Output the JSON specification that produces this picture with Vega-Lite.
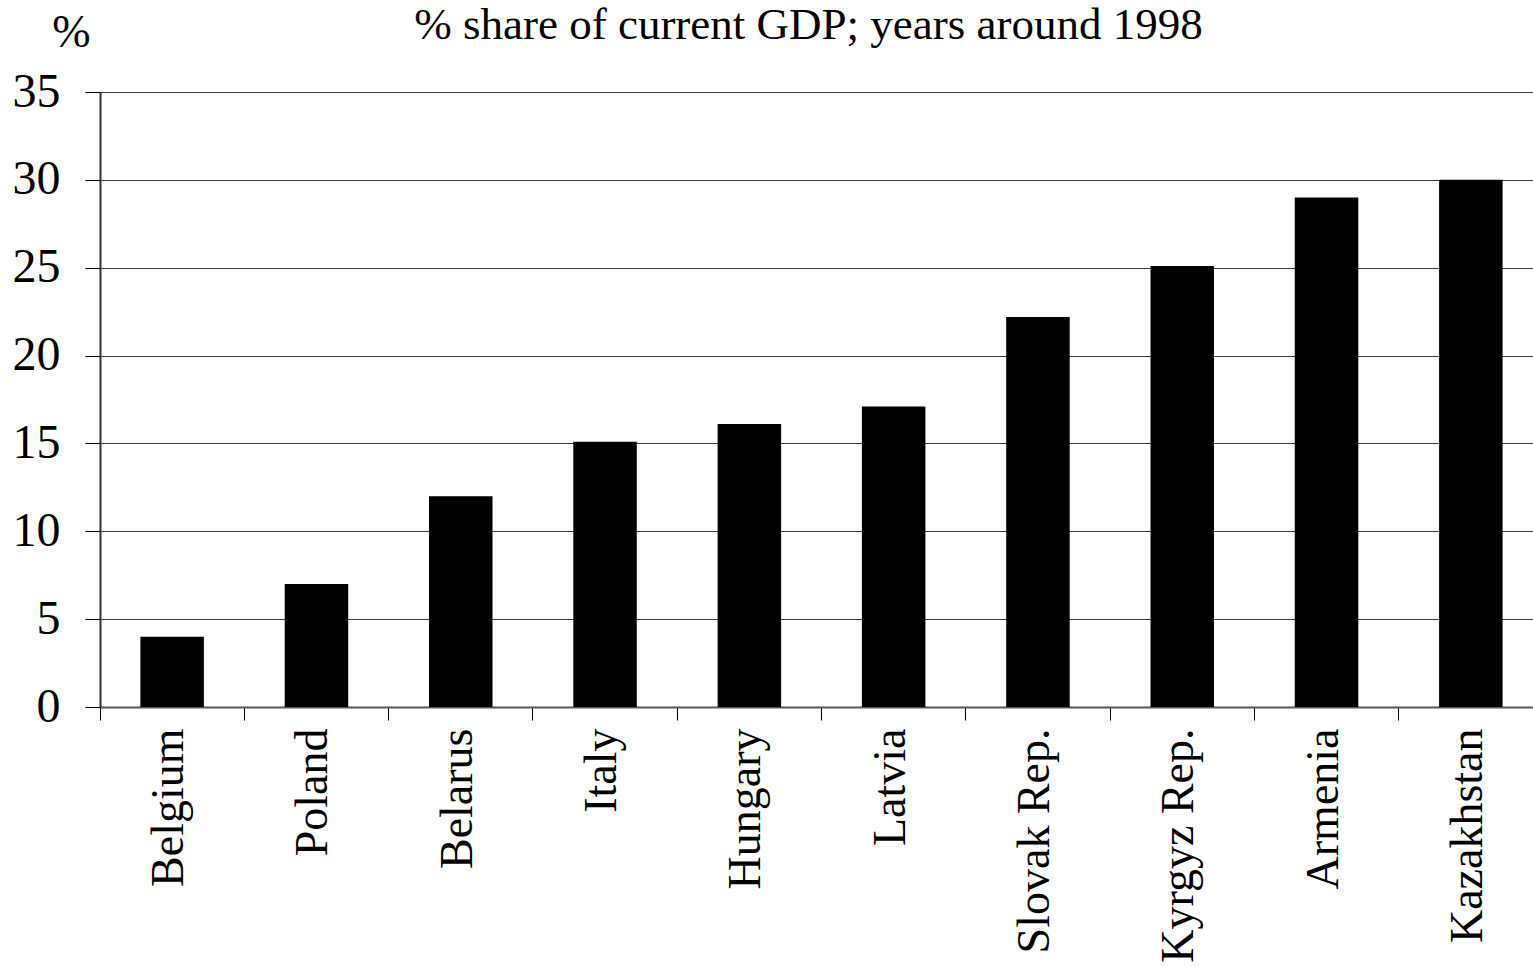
{
  "$schema": "https://vega.github.io/schema/vega-lite/v6.json",
  "autosize": "none",
  "padding": {"left": 100, "top": 92, "right": 0, "bottom": 260},
  "width": 1443,
  "height": 615,
  "background": "white",
  "config": {"view": {"stroke": null}, "font": "Liberation Serif"},
  "title": {
    "text": "% share of current GDP; years around 1998",
    "font": "Liberation Serif",
    "fontSize": 45,
    "fontWeight": "normal",
    "color": "black",
    "anchor": "middle",
    "frame": "group",
    "dx": -13,
    "offset": -39
  },
  "data": {
    "values": [
      {"country": "Belgium", "value": 4},
      {"country": "Poland", "value": 7},
      {"country": "Belarus", "value": 12},
      {"country": "Italy", "value": 15.1},
      {"country": "Hungary", "value": 16.1},
      {"country": "Latvia", "value": 17.1},
      {"country": "Slovak Rep.", "value": 22.2},
      {"country": "Kyrgyz Rep.", "value": 25.1},
      {"country": "Armenia", "value": 29},
      {"country": "Kazakhstan", "value": 30}
    ]
  },
  "mark": {"type": "bar", "color": "black"},
  "encoding": {
    "x": {
      "field": "country",
      "type": "nominal",
      "sort": null,
      "scale": {"paddingInner": 0.56, "paddingOuter": 0.28, "align": 0.5},
      "axis": {
        "title": null,
        "labelAngle": -90,
        "labelAlign": "right",
        "labelBaseline": "middle",
        "labelFont": "Liberation Serif",
        "labelFontSize": 46,
        "labelColor": "black",
        "labelPadding": 8,
        "labelLimit": 400,
        "labelOffset": -3,
        "bandPosition": -0.636,
        "ticks": true,
        "tickSize": 13,
        "tickColor": "black",
        "domainColor": "#555555",
        "domainWidth": 2,
        "grid": false
      }
    },
    "y": {
      "field": "value",
      "type": "quantitative",
      "scale": {"domain": [0, 35], "nice": false},
      "axis": {
        "values": [0, 5, 10, 15, 20, 25, 30, 35],
        "title": "%",
        "titleAngle": 0,
        "titleFont": "Liberation Serif",
        "titleFontSize": 46,
        "titleFontWeight": "normal",
        "titleColor": "black",
        "titleX": -29,
        "titleY": -60,
        "titleAlign": "center",
        "titleBaseline": "middle",
        "labelFont": "Liberation Serif",
        "labelFontSize": 48,
        "labelColor": "black",
        "labelPadding": 25,
        "tickSize": 15,
        "tickColor": "black",
        "domainColor": "#333333",
        "domainWidth": 2,
        "grid": true,
        "gridColor": "#333333",
        "gridWidth": 1.2
      }
    }
  }
}
